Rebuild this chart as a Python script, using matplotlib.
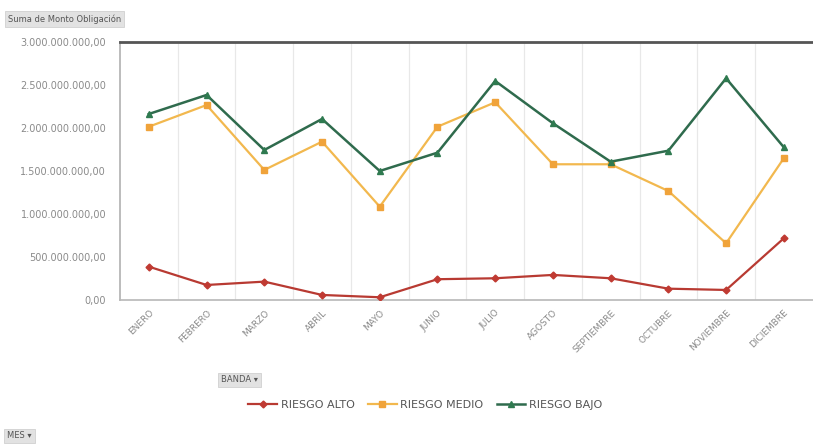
import matplotlib
matplotlib.use("Agg")
import matplotlib.pyplot as plt
from matplotlib.ticker import FuncFormatter, MultipleLocator
from matplotlib.patches import FancyBboxPatch

months = ["ENERO", "FEBRERO", "MARZO", "ABRIL", "MAYO", "JUNIO", "JULIO",
          "AGOSTO", "SEPTIEMBRE", "OCTUBRE", "NOVIEMBRE", "DICIEMBRE"]
riesgo_alto = [0.387e9, 0.174e9, 0.213e9, 0.058e9, 0.031e9, 0.241e9,
               0.252e9, 0.291e9, 0.252e9, 0.131e9, 0.116e9, 0.717e9]
riesgo_medio = [2.015e9, 2.267e9, 1.512e9, 1.841e9, 1.085e9, 2.015e9,
                2.299e9, 1.578e9, 1.578e9, 1.267e9, 0.659e9, 1.648e9]
riesgo_bajo = [2.163e9, 2.384e9, 1.744e9, 2.105e9, 1.500e9, 1.713e9,
               2.547e9, 2.055e9, 1.608e9, 1.736e9, 2.578e9, 1.776e9]
series_names = ["RIESGO ALTO", "RIESGO MEDIO", "RIESGO BAJO"]

fig = plt.figure(figsize=(8.13, 4.47), dpi=100)
ax = fig.add_axes([0.1476, 0.329, 0.852, 0.577])

x = list(range(len(months)))
ax.plot(x, riesgo_alto, color="#b83a32", lw=1.6, marker="D", ms=3.5,
        mfc="#c03a32", mec="#c03a32", label=series_names[0], zorder=3)
ax.plot(x, riesgo_medio, color="#f2b84e", lw=1.6, marker="s", ms=4.5,
        mfc="#f0a33a", mec="#f0a33a", label=series_names[1], zorder=3)
ax.plot(x, riesgo_bajo, color="#2f6b4d", lw=1.8, marker="^", ms=4.5,
        mfc="#2f7a50", mec="#2f7a50", label=series_names[2], zorder=3)

ax.set_xlim(-0.5, len(months) - 0.5)
ax.set_ylim(0, 3e9)
ax.yaxis.set_major_locator(MultipleLocator(5e8))

def fmt(v, pos):
    s = f"{v:,.2f}"
    s = s.replace(",", "X").replace(".", ",").replace("X", ".")
    return s

ax.yaxis.set_major_formatter(FuncFormatter(fmt))
ax.set_xticks(x)
ax.set_xticklabels(months, rotation=45, ha="right", rotation_mode="anchor",
                   fontsize=6.5, color="#8a8a8a")
ax.tick_params(axis="y", labelsize=7, colors="#8a8a8a", length=0, pad=10)
ax.tick_params(axis="x", length=0, pad=6)

# vertical separators between categories
for b in [i + 0.5 for i in x[:-1]]:
    ax.axvline(b, color="#e8e8e8", lw=0.9, zorder=1)

for side in ["right"]:
    ax.spines[side].set_visible(False)
ax.spines["top"].set_color("#555555")
ax.spines["top"].set_linewidth(2)
ax.spines["left"].set_color("#b0b0b0")
ax.spines["left"].set_linewidth(1.2)
ax.spines["bottom"].set_color("#b8b8b8")
ax.spines["bottom"].set_linewidth(1.2)

fig.legend(loc="center", bbox_to_anchor=(0.523, 0.094), ncol=3, frameon=False,
           fontsize=8, labelcolor="#555555", handlelength=2.6,
           columnspacing=1.2, handletextpad=0.3)

def button(xp, yp, text, fs=6):
    fig.text(xp, yp, text, fontsize=fs, color="#555555", va="center", ha="left",
             bbox=dict(boxstyle="square,pad=0.35", fc="#e2e2e2", ec="#d0d0d0", lw=0.6))

button(8 / 813, 1 - 19 / 447, "Suma de Monto Obligación")
button(221 / 813, 1 - 380 / 447, "BANDA ▾")
button(7 / 813, 1 - 436 / 447, "MES ▾")

fig.savefig("out.png", dpi=100)
